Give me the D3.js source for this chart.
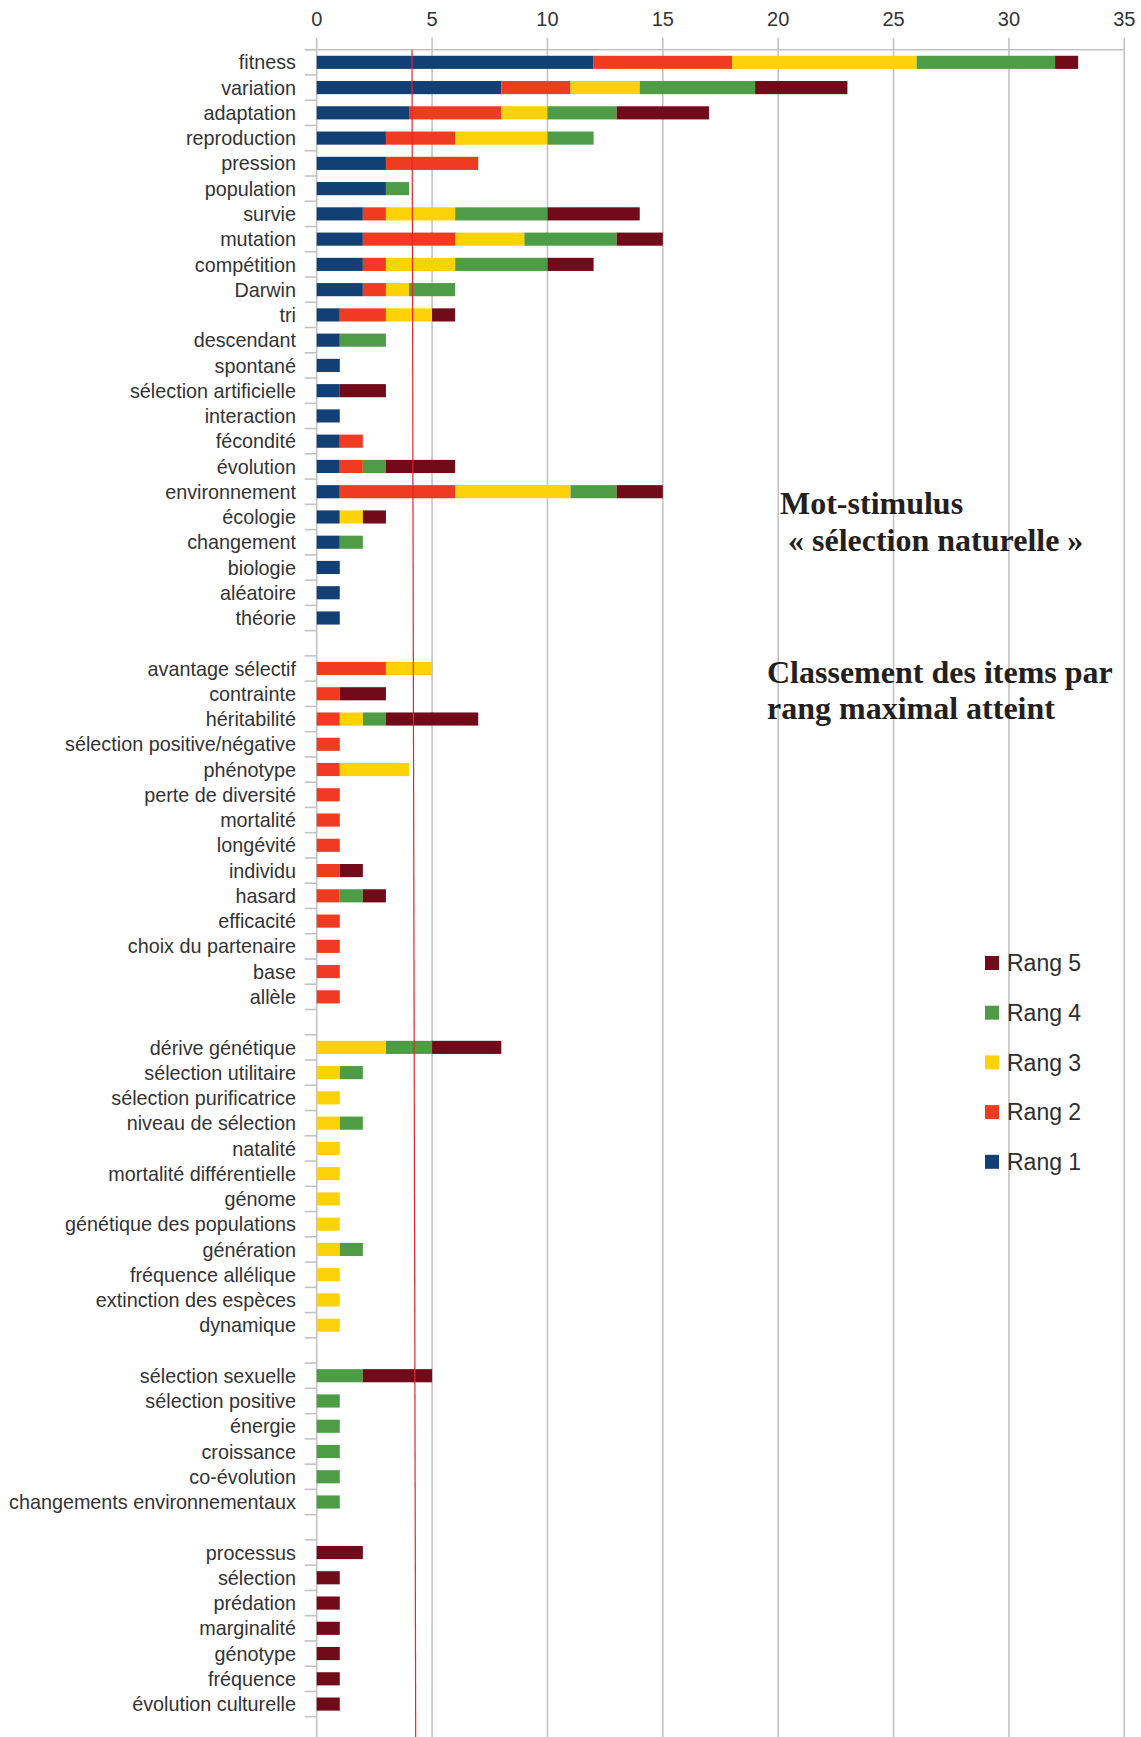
<!DOCTYPE html>
<html>
<head>
<meta charset="utf-8">
<script src="https://cdn.jsdelivr.net/npm/d3@7"></script>
<style>
    body { margin: 0; background: #ffffff; }
</style>
</head>
<body>
<div id="chart"></div>
<script>
// Categories (empty strings are the gaps between groups)
const categories = [
    "fitness", "variation", "adaptation", "reproduction", "pression", "population", "survie",
    "mutation", "compétition", "Darwin", "tri", "descendant", "spontané", "sélection artificielle",
    "interaction", "fécondité", "évolution", "environnement", "écologie", "changement",
    "biologie", "aléatoire", "théorie",
    "",
    "avantage sélectif", "contrainte", "héritabilité", "sélection positive/négative", "phénotype",
    "perte de diversité", "mortalité", "longévité", "individu", "hasard", "efficacité",
    "choix du partenaire", "base", "allèle",
    "",
    "dérive génétique", "sélection utilitaire", "sélection purificatrice", "niveau de sélection",
    "natalité", "mortalité différentielle", "génome", "génétique des populations", "génération",
    "fréquence allélique", "extinction des espèces", "dynamique",
    "",
    "sélection sexuelle", "sélection positive", "énergie", "croissance", "co-évolution",
    "changements environnementaux",
    "",
    "processus", "sélection", "prédation", "marginalité", "génotype", "fréquence", "évolution culturelle"
];

// Counts per rank, one line per group
const rang1 = [12, 8, 4, 3, 3, 3, 2, 2, 2, 2, 1, 1, 1, 1, 1, 1, 1, 1, 1, 1, 1, 1, 1,
    0,
    0, 0, 0, 0, 0, 0, 0, 0, 0, 0, 0, 0, 0, 0,
    0,
    0, 0, 0, 0, 0, 0, 0, 0, 0, 0, 0, 0,
    0,
    0, 0, 0, 0, 0, 0,
    0,
    0, 0, 0, 0, 0, 0, 0];
const rang2 = [6, 3, 4, 3, 4, 0, 1, 4, 1, 1, 2, 0, 0, 0, 0, 1, 1, 5, 0, 0, 0, 0, 0,
    0,
    3, 1, 1, 1, 1, 1, 1, 1, 1, 1, 1, 1, 1, 1,
    0,
    0, 0, 0, 0, 0, 0, 0, 0, 0, 0, 0, 0,
    0,
    0, 0, 0, 0, 0, 0,
    0,
    0, 0, 0, 0, 0, 0, 0];
const rang3 = [8, 3, 2, 4, 0, 0, 3, 3, 3, 1, 2, 0, 0, 0, 0, 0, 0, 5, 1, 0, 0, 0, 0,
    0,
    2, 0, 1, 0, 3, 0, 0, 0, 0, 0, 0, 0, 0, 0,
    0,
    3, 1, 1, 1, 1, 1, 1, 1, 1, 1, 1, 1,
    0,
    0, 0, 0, 0, 0, 0,
    0,
    0, 0, 0, 0, 0, 0, 0];
const rang4 = [6, 5, 3, 2, 0, 1, 4, 4, 4, 2, 0, 2, 0, 0, 0, 0, 1, 2, 0, 1, 0, 0, 0,
    0,
    0, 0, 1, 0, 0, 0, 0, 0, 0, 1, 0, 0, 0, 0,
    0,
    2, 1, 0, 1, 0, 0, 0, 0, 1, 0, 0, 0,
    0,
    2, 1, 1, 1, 1, 1,
    0,
    0, 0, 0, 0, 0, 0, 0];
const rang5 = [1, 4, 4, 0, 0, 0, 4, 2, 2, 0, 1, 0, 0, 2, 0, 0, 3, 2, 1, 0, 0, 0, 0,
    0,
    0, 2, 4, 0, 0, 0, 0, 0, 1, 1, 0, 0, 0, 0,
    0,
    3, 0, 0, 0, 0, 0, 0, 0, 0, 0, 0, 0,
    0,
    3, 0, 0, 0, 0, 0,
    0,
    2, 1, 1, 1, 1, 1, 1];

const series = ["Rang 1", "Rang 2", "Rang 3", "Rang 4", "Rang 5"];
const colors = ["#123f74", "#ef3b22", "#fdd209", "#4e9c46", "#710a19"];
const xTicks = [0, 5, 10, 15, 20, 25, 30, 35];
// hand drawn red reference line (value at top, value at bottom)
const seuil = [4.13, 4.29];

// Build rows for the stack
const rows = categories.map((c, i) => ({
    idx: i,
    "Rang 1": rang1[i],
    "Rang 2": rang2[i],
    "Rang 3": rang3[i],
    "Rang 4": rang4[i],
    "Rang 5": rang5[i]
}));

const width = 1141,
    height = 1737;
const margin = {top: 49.7, left: 316.7, right: 16.7, bottom: 20.3};

const svg = d3.select("#chart")
    .append("svg")
    .attr("width", width)
    .attr("height", height)
    .style("font-family", "'Liberation Sans', Arial, sans-serif");

// Scales
const xScale = d3.scaleLinear()
    .domain([0, 35])
    .range([margin.left, width - margin.right]);

const yScale = d3.scaleBand()
    .domain(d3.range(categories.length))
    .range([margin.top, height - margin.bottom])
    .paddingInner(0.48)
    .paddingOuter(0.24);

const colorScale = d3.scaleOrdinal().domain(series).range(colors);

// Vertical grid lines
svg.append("g")
    .selectAll("line")
    .data(xTicks)
    .enter().append("line")
    .attr("x1", d => xScale(d))
    .attr("x2", d => xScale(d))
    .attr("y1", margin.top - 12)
    .attr("y2", height)
    .attr("stroke", "#c3c3c3")
    .attr("stroke-width", 1.6);

// Top axis line
svg.append("line")
    .attr("x1", margin.left - 12)
    .attr("x2", xScale(35))
    .attr("y1", margin.top)
    .attr("y2", margin.top)
    .attr("stroke", "#c3c3c3")
    .attr("stroke-width", 1.6);

// Top tick labels
svg.append("g")
    .selectAll("text")
    .data(xTicks)
    .enter().append("text")
    .attr("x", d => xScale(d))
    .attr("y", 26)
    .attr("text-anchor", "middle")
    .style("font-size", "20px")
    .style("fill", "#333333")
    .text(d => d);

// Category ticks at band boundaries
const step = yScale.step();
svg.append("g")
    .selectAll("line")
    .data(d3.range(categories.length + 1))
    .enter().append("line")
    .attr("x1", margin.left - 12)
    .attr("x2", margin.left)
    .attr("y1", d => margin.top + d * step)
    .attr("y2", d => margin.top + d * step)
    .attr("stroke", "#c3c3c3")
    .attr("stroke-width", 1.6);

// Stacked bars
const stacked = d3.stack().keys(series)(rows);

svg.append("g")
    .selectAll("g")
    .data(stacked)
    .enter().append("g")
    .attr("fill", d => colorScale(d.key))
    .selectAll("rect")
    .data(d => d.filter(s => s[1] > s[0]))
    .enter().append("rect")
    .attr("x", d => xScale(d[0]))
    .attr("y", d => yScale(d.data.idx))
    .attr("width", d => xScale(d[1]) - xScale(d[0]))
    .attr("height", yScale.bandwidth());

// Category labels
svg.append("g")
    .selectAll("text")
    .data(categories)
    .enter().append("text")
    .attr("x", 296)
    .attr("y", (d, i) => yScale(i) + yScale.bandwidth() / 2)
    .attr("dy", "0.36em")
    .attr("text-anchor", "end")
    .style("font-size", "19.8px")
    .style("fill", "#333333")
    .text(d => d);

// Red reference line
svg.append("line")
    .attr("x1", xScale(seuil[0]))
    .attr("x2", xScale(seuil[1]))
    .attr("y1", margin.top)
    .attr("y2", height)
    .attr("stroke", "#e8262b")
    .attr("stroke-width", 1.2);

// Titles
const titles = svg.append("g")
    .style("font-family", "'Liberation Serif', 'Times New Roman', serif")
    .style("font-weight", "bold")
    .style("font-size", "32px")
    .style("fill", "#231f20");

titles.append("text").attr("x", 780).attr("y", 514).text("Mot-stimulus");
titles.append("text").attr("x", 788).attr("y", 551).text("« sélection naturelle »");
titles.append("text").attr("x", 767).attr("y", 683).text("Classement des items par");
titles.append("text").attr("x", 767).attr("y", 719).text("rang maximal atteint");

// Legend, Rang 5 on top
const legend = svg.selectAll(".legend")
    .data(series.slice().reverse())
    .enter().append("g")
    .attr("class", "legend")
    .attr("transform", (d, i) => "translate(985," + (956 + i * 49.7) + ")");

legend.append("rect")
    .attr("width", 14)
    .attr("height", 14)
    .attr("fill", colorScale);

legend.append("text")
    .attr("x", 22)
    .attr("y", 7)
    .attr("dy", "0.36em")
    .style("font-size", "23px")
    .style("fill", "#2e2e2e")
    .text(d => d);
</script>
</body>
</html>
